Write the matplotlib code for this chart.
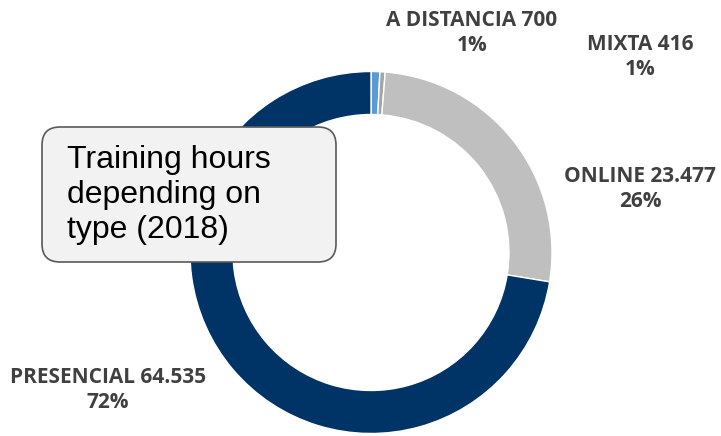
import matplotlib.pyplot as plt
from matplotlib.patches import FancyBboxPatch

labels = ['A DISTANCIA', 'MIXTA', 'ONLINE', 'PRESENCIAL']
hours = [700, 416, 23477, 64535]
hour_labels = ['700', '416', '23.477', '64.535']
pct_labels = ['1%', '1%', '26%', '72%']
colors = ['#5B9BD5', '#A5A5A5', '#BFBFBF', '#003366']

fig = plt.figure(figsize=(7.21, 4.36), dpi=100)
ax = fig.add_axes([0, 0, 1, 1])

# y axis is flipped below, so counterclock=True draws clockwise on screen
ax.pie(hours, colors=colors, startangle=-90, counterclock=True,
       center=(371, 252.5), radius=181,
       wedgeprops=dict(width=43, edgecolor='white', linewidth=1))
ax.set_xlim(0, 721)
ax.set_ylim(436, 0)
ax.set_aspect('equal')
ax.axis('off')

# label positions (pixels)
label_pos = [(472, 33), (640, 57), (640, 189), (108, 390)]
for (x, y), name, h, p in zip(label_pos, labels, hour_labels, pct_labels):
    ax.text(x, y, f'{name} {h}\n{p}', ha='center', va='center',
            fontsize=15, fontweight='bold', family='Open Sans',
            color='#404040', linespacing=1.3)

box = FancyBboxPatch((42, 127), 294, 135,
                     boxstyle='round,pad=0,rounding_size=18',
                     facecolor='#F2F2F2', edgecolor='#595959', linewidth=1.2,
                     zorder=5)
ax.add_patch(box)
ax.text(67, 195, 'Training hours\ndepending on\ntype (2018)', ha='left', va='center',
        fontsize=23, family='Liberation Sans', color='black',
        linespacing=1.2, zorder=6)

fig.savefig('out.png', dpi=100)
